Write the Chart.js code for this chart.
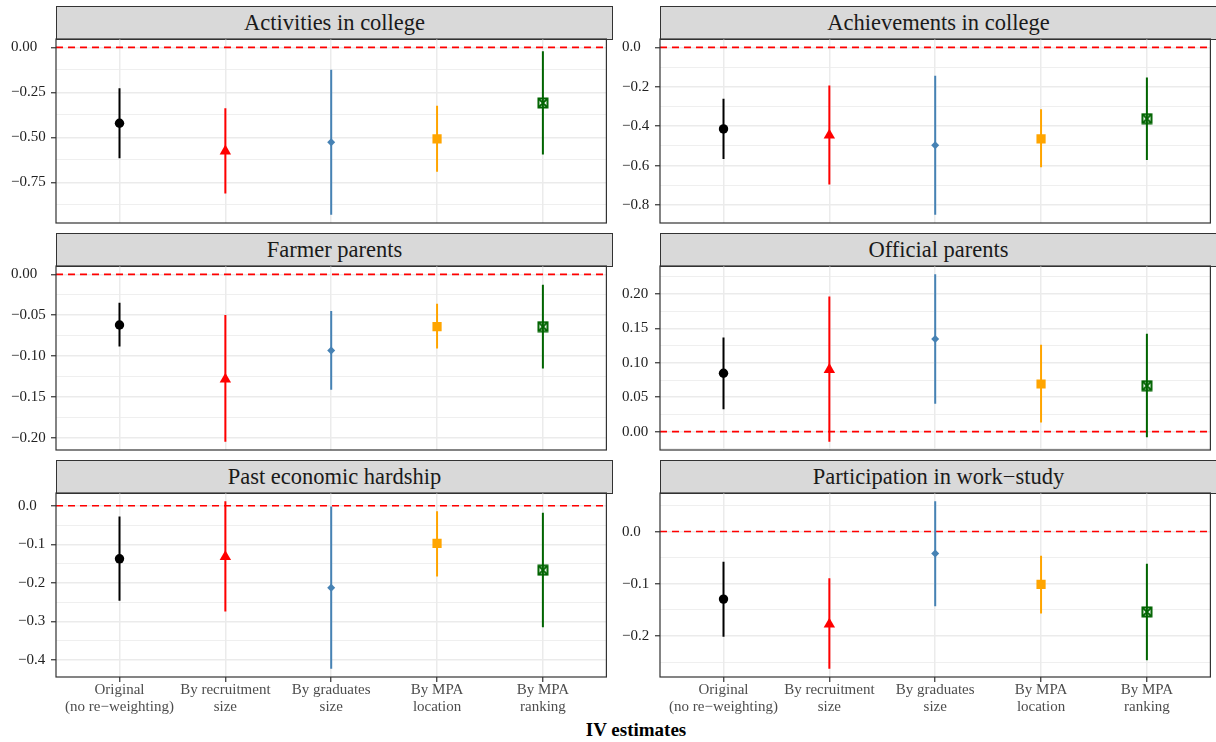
<!DOCTYPE html>
<html>
<head>
<meta charset="utf-8">
<title>IV estimates</title>
<script src="https://cdn.jsdelivr.net/npm/chart.js@4.4.1/dist/chart.umd.min.js"></script>
<style>
  html, body { margin: 0; padding: 0; background: #ffffff; overflow: hidden; }
  #fig { position: relative; width: 1216px; height: 742px; overflow: hidden;
         font-family: "Liberation Serif", "Times New Roman", serif; }
  .strip { position: absolute; box-sizing: border-box; background: #d9d9d9;
           border: 1.2px solid #333333; color: #1a1a1a; font-size: 22.5px;
           text-align: center; white-space: nowrap; }
  #fig canvas { position: absolute; }
  .xtitle { position: absolute; font-weight: bold; font-size: 19px; color: #000;
            text-align: center; white-space: nowrap; }
</style>
</head>
<body>
<div id="fig"></div>
<script>
// ---- data -------------------------------------------------------------
const categories = [
  ['Original', '(no re\u2212weighting)'],
  ['By recruitment', 'size'],
  ['By graduates', 'size'],
  ['By MPA', 'location'],
  ['By MPA', 'ranking']
];
const seriesColors = ['#000000', '#ff0000', '#4682b4', '#ffa500', '#006400'];

const activitiesEst  = [-0.422, -0.577, -0.528, -0.509, -0.309];
const activitiesLow  = [-0.617, -0.813, -0.930, -0.692, -0.595];
const activitiesHigh = [-0.227, -0.338, -0.124, -0.324, -0.022];
const activitiesTicks = [0, -0.25, -0.5, -0.75];
const activitiesTickLabels = ['0.00', '\u22120.25', '\u22120.50', '\u22120.75'];

const achievementsEst  = [-0.414, -0.446, -0.497, -0.464, -0.362];
const achievementsLow  = [-0.566, -0.696, -0.849, -0.609, -0.572];
const achievementsHigh = [-0.261, -0.194, -0.144, -0.314, -0.153];
const achievementsTicks = [0, -0.2, -0.4, -0.6, -0.8];
const achievementsTickLabels = ['0.0', '\u22120.2', '\u22120.4', '\u22120.6', '\u22120.8'];

const farmerEst  = [-0.0620, -0.1285, -0.0932, -0.0640, -0.0640];
const farmerLow  = [-0.0883, -0.2048, -0.1412, -0.0907, -0.1154];
const farmerHigh = [-0.0349, -0.0497, -0.0448, -0.0361, -0.0127];
const farmerTicks = [0, -0.05, -0.1, -0.15, -0.2];
const farmerTickLabels = ['0.00', '\u22120.05', '\u22120.10', '\u22120.15', '\u22120.20'];

const officialEst  = [0.0849, 0.0902, 0.1347, 0.0693, 0.0668];
const officialLow  = [0.0327, -0.0146, 0.0404, 0.0132, -0.0083];
const officialHigh = [0.1370, 0.1966, 0.2288, 0.1264, 0.1425];
const officialTicks = [0, 0.05, 0.1, 0.15, 0.2];
const officialTickLabels = ['0.00', '0.05', '0.10', '0.15', '0.20'];

const hardshipEst  = [-0.1376, -0.1323, -0.2125, -0.0975, -0.1670];
const hardshipLow  = [-0.2465, -0.2745, -0.4226, -0.1838, -0.3153];
const hardshipHigh = [-0.0277, 0.0115, -0.0016, -0.0139, -0.0183];
const hardshipTicks = [0, -0.1, -0.2, -0.3, -0.4];
const hardshipTickLabels = ['0.0', '\u22120.1', '\u22120.2', '\u22120.3', '\u22120.4'];

const workStudyEst  = [-0.1292, -0.1774, -0.0419, -0.1010, -0.1537];
const workStudyLow  = [-0.2013, -0.2623, -0.1427, -0.1570, -0.2463];
const workStudyHigh = [-0.0579, -0.0894, 0.0578, -0.0463, -0.0617];
const workStudyTicks = [0, -0.1, -0.2];
const workStudyTickLabels = ['0.0', '\u22120.1', '\u22120.2'];

// ---- layout -----------------------------------------------------------
const FONT = '"Liberation Serif", "Times New Roman", serif';
const PANEL_W = 557, PLOT_H = 184, STRIP_H = 34;
const COL_LEFT = [56, 660];
const ROW_TOP = [39, 266, 493];      // top of each plotting region
const MARGIN = 12;                   // canvas overhang above / below a panel
const X_AXIS_H = 42;

const panels = [
  { title: 'Activities in college', est: activitiesEst, low: activitiesLow, high: activitiesHigh,
    ticks: activitiesTicks, tickLabels: activitiesTickLabels, col: 0, row: 0, labelX: 11 },
  { title: 'Achievements in college', est: achievementsEst, low: achievementsLow, high: achievementsHigh,
    ticks: achievementsTicks, tickLabels: achievementsTickLabels, col: 1, row: 0, labelX: 622 },
  { title: 'Farmer parents', est: farmerEst, low: farmerLow, high: farmerHigh,
    ticks: farmerTicks, tickLabels: farmerTickLabels, col: 0, row: 1, labelX: 11 },
  { title: 'Official parents', est: officialEst, low: officialLow, high: officialHigh,
    ticks: officialTicks, tickLabels: officialTickLabels, col: 1, row: 1, labelX: 622 },
  { title: 'Past economic hardship', est: hardshipEst, low: hardshipLow, high: hardshipHigh,
    ticks: hardshipTicks, tickLabels: hardshipTickLabels, col: 0, row: 2, labelX: 18 },
  { title: 'Participation in work\u2212study', est: workStudyEst, low: workStudyLow, high: workStudyHigh,
    ticks: workStudyTicks, tickLabels: workStudyTickLabels, col: 1, row: 2, labelX: 622 }
];

// square outline with a diagonal cross, used for the last estimator
function squareCross(color) {
  const s = 12, c = document.createElement('canvas');
  c.width = s; c.height = s;
  const g = c.getContext('2d');
  g.strokeStyle = color; g.lineWidth = 2;
  g.strokeRect(1.5, 1.5, 9, 9);
  g.lineWidth = 1.8;
  g.beginPath();
  g.moveTo(1.5, 1.5); g.lineTo(10.5, 10.5);
  g.moveTo(10.5, 1.5); g.lineTo(1.5, 10.5);
  g.stroke();
  return c;
}
const markerStyles = ['circle', 'triangle', 'rectRot', 'rect', squareCross(seriesColors[4])];
const markerRadius = [4.7, 6.6, 4, 6.5, 6];

// frame drawn around every plotting region
const panelFrame = {
  id: 'panelFrame',
  afterDraw(chart) {
    const a = chart.chartArea, c = chart.ctx;
    c.save();
    c.strokeStyle = '#333333';
    c.lineWidth = 1.2;
    c.strokeRect(a.left, a.top, a.right - a.left, a.bottom - a.top);
    c.restore();
  }
};

const fig = document.getElementById('fig');

function near(a, b) { return Math.abs(a - b) < 1e-9; }

function makePanel(p) {
  const left = COL_LEFT[p.col];
  const top = ROW_TOP[p.row];
  const isBottom = p.row === 2;
  const axisW = left - p.labelX;

  // strip with the panel title
  const strip = document.createElement('div');
  strip.className = 'strip';
  strip.style.left = left + 'px';
  strip.style.top = (top - STRIP_H + 1) + 'px';
  strip.style.width = PANEL_W + 'px';
  strip.style.height = STRIP_H + 'px';
  strip.style.lineHeight = (STRIP_H - 2.4) + 'px';
  strip.textContent = p.title;
  fig.appendChild(strip);

  // y range: data plus the zero reference, widened by 5% on each side
  const lo = Math.min(0, ...p.low, ...p.est);
  const hi = Math.max(0, ...p.high, ...p.est);
  const pad = (hi - lo) * 0.05;
  const yMin = lo - pad, yMax = hi + pad;

  // major ticks carry labels; minor grid lines sit halfway between them
  const half = Math.abs(p.ticks[1] - p.ticks[0]) / 2;
  const gridValues = [];
  for (let k = Math.ceil(yMin / half); k * half <= yMax; k++) {
    gridValues.push(Math.round(k * half * 1e9) / 1e9);
  }
  const isMajor = v => p.ticks.some(t => near(t, v));

  const cw = axisW + PANEL_W;
  const ch = MARGIN + PLOT_H + (isBottom ? X_AXIS_H : MARGIN);
  const canvas = document.createElement('canvas');
  canvas.width = cw; canvas.height = ch;
  canvas.style.width = cw + 'px'; canvas.style.height = ch + 'px';
  canvas.style.left = p.labelX + 'px';
  canvas.style.top = (top - MARGIN) + 'px';
  fig.appendChild(canvas);

  const datasets = [];
  // dashed zero reference line
  datasets.push({
    type: 'line',
    data: [{ x: -0.6, y: 0 }, { x: 4.6, y: 0 }],
    borderColor: '#ff0000', borderWidth: 1.6, borderDash: [7, 5],
    pointRadius: 0, order: 10
  });
  // confidence intervals
  categories.forEach((c, i) => {
    datasets.push({
      type: 'line',
      data: [{ x: i, y: p.low[i] }, { x: i, y: p.high[i] }],
      borderColor: seriesColors[i], borderWidth: 2, borderCapStyle: 'butt',
      pointRadius: 0, order: 5
    });
  });
  // point estimates
  datasets.push({
    type: 'scatter',
    data: p.est.map((v, i) => ({ x: i, y: v })),
    pointStyle: markerStyles,
    pointRadius: markerRadius,
    backgroundColor: seriesColors,
    borderColor: seriesColors,
    borderWidth: 0,
    order: 0
  });

  new Chart(canvas, {
    data: { datasets },
    plugins: [panelFrame],
    options: {
      responsive: false,
      devicePixelRatio: 1,
      animation: false,
      events: [],
      layout: { padding: { left: 0, right: 0, top: MARGIN, bottom: isBottom ? 0 : MARGIN } },
      plugins: { legend: { display: false }, tooltip: { enabled: false } },
      scales: {
        x: {
          type: 'linear', min: -0.6, max: 4.6, bounds: 'data',
          afterBuildTicks: s => { s.ticks = categories.map((c, i) => ({ value: i })); },
          afterFit: s => { s.height = isBottom ? X_AXIS_H : 0; },
          ticks: {
            display: isBottom, autoSkip: false, maxRotation: 0, minRotation: 0, padding: 0,
            color: '#4d4d4d', font: { family: FONT, size: 15, lineHeight: 17 / 15 },
            callback: v => categories[Math.round(v)]
          },
          grid: { color: '#ebebeb', lineWidth: 1.5, drawTicks: isBottom, tickLength: 5,
                  tickColor: '#333333', tickWidth: 1.2 },
          border: { display: false }
        },
        y: {
          type: 'linear', min: yMin, max: yMax, bounds: 'data',
          afterBuildTicks: s => { s.ticks = gridValues.map(v => ({ value: v })); },
          afterFit: s => { s.width = axisW; },
          ticks: {
            autoSkip: false, crossAlign: 'far', padding: 3,
            color: '#222222', font: { family: FONT, size: 15 },
            callback: v => {
              const k = p.ticks.findIndex(t => near(t, v));
              return k >= 0 ? p.tickLabels[k] : '';
            }
          },
          grid: {
            color: '#ebebeb',
            lineWidth: ctx => (ctx.tick && isMajor(ctx.tick.value)) ? 1.5 : 0.8,
            tickLength: 5,
            tickWidth: 1.2,
            tickColor: ctx => (ctx.tick && isMajor(ctx.tick.value)) ? '#333333' : 'rgba(0,0,0,0)'
          },
          border: { display: false }
        }
      }
    }
  });
}

panels.forEach(makePanel);

// shared axis title
const xt = document.createElement('div');
xt.className = 'xtitle';
xt.style.left = '536px';
xt.style.width = '200px';
xt.style.top = '719px';
xt.style.lineHeight = '22px';
xt.textContent = 'IV estimates';
fig.appendChild(xt);
</script>
</body>
</html>
